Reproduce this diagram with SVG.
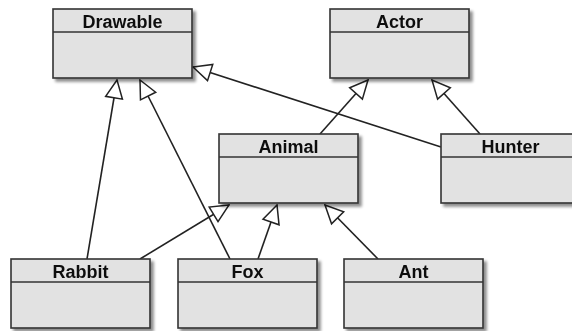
<svg xmlns="http://www.w3.org/2000/svg" width="572" height="331" viewBox="0 0 572 331">
<defs>
<filter id="sh" x="-10%" y="-10%" width="130%" height="130%">
<feGaussianBlur in="SourceAlpha" stdDeviation="1.5"/>
<feOffset dx="3" dy="3" result="b"/>
<feComponentTransfer><feFuncA type="linear" slope="0.45"/></feComponentTransfer>
<feMerge><feMergeNode/><feMergeNode in="SourceGraphic"/></feMerge>
</filter>
<marker id="tri" viewBox="-20 -10 21 20" refX="0" refY="0" markerWidth="21" markerHeight="20" markerUnits="userSpaceOnUse" orient="auto">
<path d="M0,0 L-18,-8.5 L-18,8.5 Z" fill="#fff" stroke="#222" stroke-width="1.5" stroke-linejoin="miter"/>
</marker>
</defs>
<style>
.box{fill:#e2e2e2;stroke:#333;stroke-width:1.6}
.div{stroke:#333;stroke-width:1.6}
.lbl{font-family:"Liberation Sans",Arial,sans-serif;font-weight:bold;font-size:18px;fill:#111;text-anchor:middle}
.edge{stroke:#222;stroke-width:1.6;fill:none;marker-end:url(#tri)}
</style>
<rect width="572" height="331" fill="#fff"/>
<g id="edges">
<line class="edge" x1="87" y1="259" x2="117" y2="80"/>
<line class="edge" x1="230" y1="259" x2="140" y2="80"/>
<line class="edge" x1="441" y1="147" x2="193" y2="67"/>
<line class="edge" x1="320" y1="134" x2="368" y2="80"/>
<line class="edge" x1="480" y1="134" x2="432" y2="80"/>
<line class="edge" x1="140" y1="259" x2="229" y2="205"/>
<line class="edge" x1="258" y1="259" x2="277" y2="205"/>
<line class="edge" x1="378" y1="259" x2="325" y2="205"/>
</g>
<g id="Drawable" filter="url(#sh)">
<rect class="box" x="53" y="9" width="139" height="69"/>
<line class="div" x1="53" y1="32" x2="192" y2="32"/>
<text class="lbl" x="122.5" y="27.5">Drawable</text>
</g>
<g id="Actor" filter="url(#sh)">
<rect class="box" x="330" y="9" width="139" height="69"/>
<line class="div" x1="330" y1="32" x2="469" y2="32"/>
<text class="lbl" x="399.5" y="27.5">Actor</text>
</g>
<g id="Animal" filter="url(#sh)">
<rect class="box" x="219" y="134" width="139" height="69"/>
<line class="div" x1="219" y1="157" x2="358" y2="157"/>
<text class="lbl" x="288.5" y="152.5">Animal</text>
</g>
<g id="Hunter" filter="url(#sh)">
<rect class="box" x="441" y="134" width="139" height="69"/>
<line class="div" x1="441" y1="157" x2="580" y2="157"/>
<text class="lbl" x="510.5" y="152.5">Hunter</text>
</g>
<g id="Rabbit" filter="url(#sh)">
<rect class="box" x="11" y="259" width="139" height="69"/>
<line class="div" x1="11" y1="282" x2="150" y2="282"/>
<text class="lbl" x="80.5" y="277.5">Rabbit</text>
</g>
<g id="Fox" filter="url(#sh)">
<rect class="box" x="178" y="259" width="139" height="69"/>
<line class="div" x1="178" y1="282" x2="317" y2="282"/>
<text class="lbl" x="247.5" y="277.5">Fox</text>
</g>
<g id="Ant" filter="url(#sh)">
<rect class="box" x="344" y="259" width="139" height="69"/>
<line class="div" x1="344" y1="282" x2="483" y2="282"/>
<text class="lbl" x="413.5" y="277.5">Ant</text>
</g>
</svg>
